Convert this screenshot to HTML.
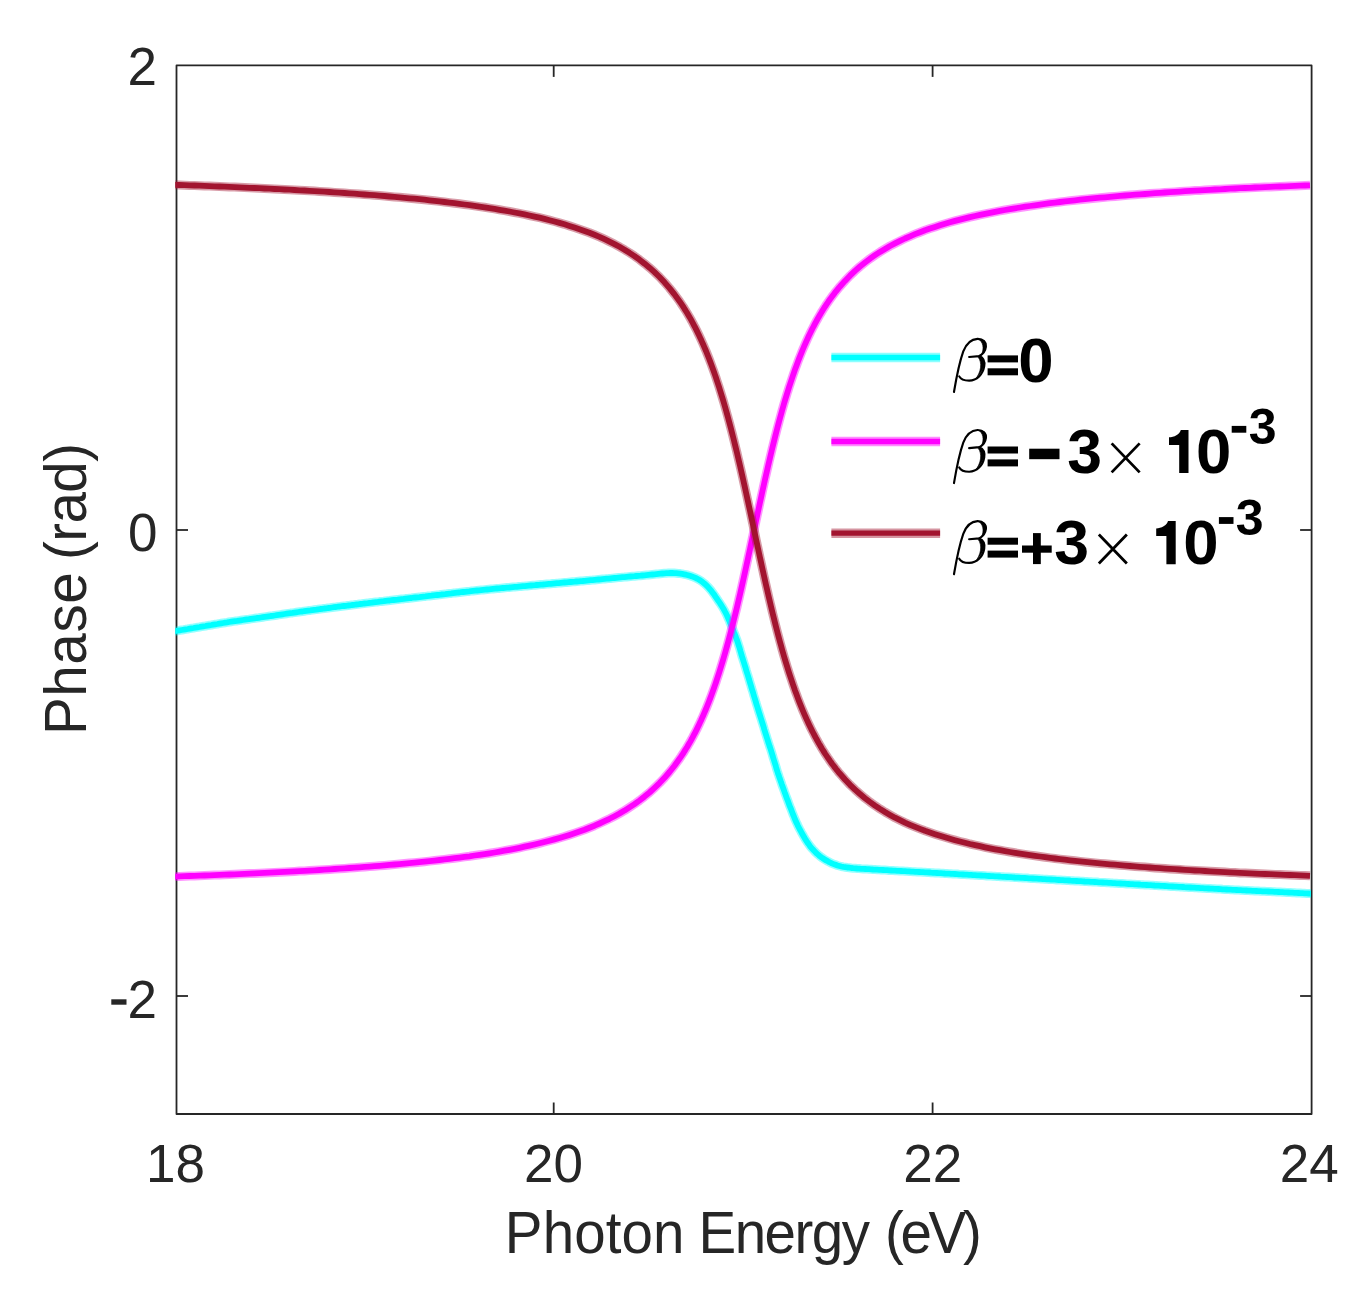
<!DOCTYPE html>
<html lang="en"><head><meta charset="utf-8"><title>Phase vs Photon Energy</title>
<style>
html,body{margin:0;padding:0;background:#ffffff;}
body{width:1363px;height:1310px;overflow:hidden;position:relative;font-family:"Liberation Sans",sans-serif;}
svg{position:absolute;left:0;top:0;display:block;}
svg text{font-kerning:none;white-space:pre;}
</style></head><body>
<svg width="1363" height="1310" viewBox="0 0 1363 1310">
<rect x="0" y="0" width="1363" height="1310" fill="#ffffff"/>
<defs><clipPath id="clip"><rect x="175.3" y="65.4" width="1135.60" height="1048.60"/></clipPath></defs>
<!-- axes box and ticks -->
<rect x="176.5" y="65.4" width="1135.10" height="1048.60" fill="none" stroke="#262626" stroke-width="1.8" stroke-linejoin="round"/>
<g stroke="#262626" stroke-width="1.8">
<line x1="553.7" y1="1114.0" x2="553.7" y2="1102.5"/>
<line x1="932.6" y1="1114.0" x2="932.6" y2="1102.5"/>
<line x1="553.7" y1="65.4" x2="553.7" y2="76.9"/>
<line x1="932.6" y1="65.4" x2="932.6" y2="76.9"/>
<line x1="176.5" y1="530.0" x2="188.0" y2="530.0"/>
<line x1="176.5" y1="996.0" x2="188.0" y2="996.0"/>
<line x1="1311.6" y1="530.0" x2="1300.1" y2="530.0"/>
<line x1="1311.6" y1="996.0" x2="1300.1" y2="996.0"/>
</g>
<!-- data curves -->
<g clip-path="url(#clip)" fill="none" stroke-linejoin="round" stroke-linecap="butt">
<path d="M168.0,632.4 L170.0,632.1 L171.9,631.7 L173.9,631.4 L175.9,631.0 L177.8,630.7 L179.8,630.3 L181.8,630.0 L183.8,629.7 L185.7,629.3 L187.7,629.0 L189.7,628.6 L191.6,628.3 L193.6,628.0 L195.6,627.6 L197.6,627.3 L199.5,627.0 L201.5,626.6 L203.5,626.3 L205.5,626.0 L207.4,625.6 L209.4,625.3 L211.4,625.0 L213.3,624.6 L215.3,624.3 L217.3,624.0 L219.3,623.6 L221.2,623.3 L223.2,623.0 L225.2,622.7 L227.2,622.4 L229.1,622.0 L231.1,621.7 L233.1,621.4 L235.1,621.1 L237.0,620.9 L239.0,620.6 L241.0,620.3 L243.0,620.0 L245.0,619.7 L246.9,619.4 L248.9,619.2 L250.9,618.9 L252.9,618.6 L254.9,618.3 L256.8,618.0 L258.8,617.8 L260.8,617.5 L262.8,617.2 L264.8,616.9 L266.7,616.6 L268.7,616.3 L270.7,616.0 L272.7,615.8 L274.7,615.5 L276.6,615.2 L278.6,614.9 L280.6,614.6 L282.6,614.3 L284.5,614.0 L286.5,613.7 L288.5,613.4 L290.5,613.1 L292.5,612.9 L294.4,612.6 L296.4,612.3 L298.4,612.0 L300.4,611.7 L302.4,611.5 L304.3,611.2 L306.3,610.9 L308.3,610.6 L310.3,610.4 L312.3,610.1 L314.3,609.8 L316.2,609.6 L318.2,609.3 L320.2,609.0 L322.2,608.8 L324.2,608.5 L326.2,608.3 L328.1,608.0 L330.1,607.8 L332.1,607.5 L334.1,607.2 L336.1,607.0 L338.1,606.7 L340.0,606.5 L342.0,606.2 L344.0,606.0 L346.0,605.8 L348.0,605.5 L350.0,605.3 L351.9,605.0 L353.9,604.8 L355.9,604.5 L357.9,604.3 L359.9,604.0 L361.9,603.8 L363.9,603.5 L365.8,603.3 L367.8,603.1 L369.8,602.8 L371.8,602.6 L373.8,602.3 L375.8,602.1 L377.8,601.9 L379.7,601.6 L381.7,601.4 L383.7,601.2 L385.7,600.9 L387.7,600.7 L389.7,600.5 L391.7,600.2 L393.7,600.0 L395.6,599.8 L397.6,599.6 L399.6,599.3 L401.6,599.1 L403.6,598.9 L405.6,598.6 L407.6,598.4 L409.5,598.2 L411.5,598.0 L413.5,597.7 L415.5,597.5 L417.5,597.3 L419.5,597.1 L421.5,596.8 L423.5,596.6 L425.4,596.4 L427.4,596.1 L429.4,595.9 L431.4,595.7 L433.4,595.4 L435.4,595.2 L437.4,595.0 L439.3,594.8 L441.3,594.5 L443.3,594.3 L445.3,594.1 L447.3,593.8 L449.3,593.6 L451.3,593.4 L453.3,593.1 L455.2,592.9 L457.2,592.7 L459.2,592.5 L461.2,592.2 L463.2,592.0 L465.2,591.8 L467.2,591.6 L469.2,591.4 L471.1,591.1 L473.1,590.9 L475.1,590.7 L477.1,590.5 L479.1,590.3 L481.1,590.1 L483.1,589.9 L485.1,589.7 L487.1,589.5 L489.0,589.3 L491.0,589.1 L493.0,588.9 L495.0,588.7 L497.0,588.5 L499.0,588.4 L501.0,588.2 L503.0,588.0 L505.0,587.8 L507.0,587.6 L509.0,587.5 L511.0,587.3 L512.9,587.1 L514.9,586.9 L516.9,586.8 L518.9,586.6 L520.9,586.4 L522.9,586.2 L524.9,586.1 L526.9,585.9 L528.9,585.7 L530.9,585.5 L532.9,585.3 L534.9,585.2 L536.9,585.0 L538.8,584.8 L540.8,584.6 L542.8,584.5 L544.8,584.3 L546.8,584.1 L548.8,583.9 L550.8,583.8 L552.8,583.6 L554.8,583.4 L556.8,583.2 L558.8,583.1 L560.8,582.9 L562.8,582.7 L564.7,582.5 L566.7,582.4 L568.7,582.2 L570.7,582.0 L572.7,581.8 L574.7,581.7 L576.7,581.5 L578.7,581.3 L580.7,581.1 L582.7,581.0 L584.7,580.8 L586.7,580.6 L588.7,580.4 L590.6,580.2 L592.6,580.1 L594.6,579.9 L596.6,579.7 L598.6,579.5 L600.6,579.3 L602.6,579.1 L604.6,578.9 L606.6,578.7 L608.6,578.6 L610.6,578.4 L612.5,578.2 L614.5,578.0 L616.5,577.8 L618.5,577.6 L620.5,577.4 L622.5,577.2 L624.5,577.1 L626.5,576.9 L628.5,576.7 L630.5,576.5 L632.5,576.3 L634.5,576.2 L636.4,576.0 L638.4,575.8 L640.4,575.7 L642.4,575.5 L644.4,575.3 L646.4,575.1 L648.4,574.9 L650.4,574.7 L652.4,574.5 L654.4,574.3 L656.4,574.1 L658.3,573.9 L660.3,573.7 L662.3,573.5 L664.3,573.3 L666.3,573.2 L668.3,573.1 L670.3,573.0 L672.3,573.0 L674.3,573.1 L676.3,573.2 L678.3,573.4 L680.3,573.6 L682.2,573.9 L684.2,574.3 L686.1,574.7 L688.1,575.2 L690.0,575.8 L691.9,576.4 L693.7,577.1 L695.6,577.9 L697.4,578.8 L699.1,579.7 L700.8,580.8 L702.4,581.9 L704.0,583.2 L705.5,584.5 L706.9,585.9 L708.3,587.3 L709.6,588.8 L710.9,590.3 L712.1,591.9 L713.3,593.5 L714.5,595.1 L715.6,596.8 L716.7,598.4 L717.8,600.1 L718.9,601.7 L720.1,603.4 L721.2,605.1 L722.2,606.7 L723.3,608.5 L724.3,610.2 L725.2,612.0 L726.1,613.7 L727.0,615.5 L727.8,617.4 L728.6,619.2 L729.4,621.0 L730.1,622.9 L730.9,624.7 L731.7,626.6 L732.4,628.4 L733.2,630.3 L733.9,632.1 L734.7,634.0 L735.4,635.8 L736.1,637.7 L736.8,639.6 L737.5,641.5 L738.1,643.4 L738.7,645.3 L739.3,647.2 L739.9,649.1 L740.4,651.0 L741.0,653.0 L741.5,654.9 L742.1,656.8 L742.7,658.7 L743.3,660.6 L743.9,662.5 L744.5,664.4 L745.1,666.3 L745.7,668.2 L746.2,670.2 L746.8,672.1 L747.4,674.0 L748.0,675.9 L748.6,677.8 L749.1,679.7 L749.7,681.6 L750.3,683.6 L750.9,685.5 L751.4,687.4 L752.0,689.3 L752.6,691.2 L753.2,693.1 L753.7,695.1 L754.3,697.0 L754.9,698.9 L755.5,700.8 L756.0,702.7 L756.6,704.6 L757.2,706.5 L757.8,708.4 L758.4,710.4 L759.0,712.3 L759.6,714.2 L760.2,716.1 L760.8,718.0 L761.4,719.9 L762.0,721.8 L762.6,723.7 L763.2,725.6 L763.8,727.5 L764.3,729.5 L764.9,731.4 L765.5,733.3 L766.1,735.2 L766.7,737.1 L767.3,739.0 L767.9,740.9 L768.5,742.8 L769.1,744.7 L769.7,746.6 L770.4,748.5 L771.0,750.4 L771.6,752.3 L772.2,754.3 L772.7,756.2 L773.3,758.1 L773.9,760.0 L774.5,761.9 L775.1,763.8 L775.7,765.7 L776.2,767.6 L776.8,769.6 L777.4,771.5 L778.0,773.4 L778.7,775.3 L779.3,777.2 L780.0,779.1 L780.6,780.9 L781.3,782.8 L781.9,784.7 L782.6,786.6 L783.3,788.5 L784.0,790.4 L784.6,792.2 L785.3,794.1 L786.0,796.0 L786.7,797.9 L787.4,799.7 L788.1,801.6 L788.8,803.5 L789.5,805.4 L790.2,807.2 L791.0,809.1 L791.7,811.0 L792.4,812.8 L793.1,814.7 L793.9,816.5 L794.6,818.4 L795.4,820.2 L796.2,822.1 L797.1,823.9 L797.9,825.7 L798.8,827.5 L799.7,829.3 L800.7,831.0 L801.6,832.8 L802.6,834.5 L803.6,836.3 L804.6,838.0 L805.6,839.7 L806.7,841.4 L807.8,843.0 L809.0,844.7 L810.1,846.3 L811.4,847.8 L812.7,849.3 L814.1,850.8 L815.5,852.2 L816.9,853.6 L818.4,854.9 L819.9,856.2 L821.5,857.4 L823.2,858.5 L824.8,859.6 L826.6,860.6 L828.3,861.6 L830.1,862.5 L831.9,863.4 L833.7,864.1 L835.6,864.8 L837.5,865.5 L839.4,866.0 L841.3,866.5 L843.3,866.9 L845.3,867.2 L847.2,867.5 L849.2,867.7 L851.2,868.0 L853.2,868.2 L855.2,868.3 L857.2,868.5 L859.2,868.6 L861.2,868.8 L863.2,868.9 L865.2,869.0 L867.2,869.1 L869.1,869.2 L871.1,869.3 L873.1,869.5 L875.1,869.6 L877.1,869.7 L879.1,869.8 L881.1,869.9 L883.1,870.0 L885.1,870.1 L887.1,870.2 L889.1,870.4 L891.1,870.5 L893.1,870.6 L895.1,870.7 L897.1,870.8 L899.1,870.9 L901.1,871.0 L903.1,871.1 L905.1,871.2 L907.1,871.3 L909.1,871.4 L911.1,871.6 L913.1,871.7 L915.1,871.8 L917.1,871.9 L919.1,872.0 L921.1,872.1 L923.1,872.2 L925.1,872.3 L927.1,872.4 L929.1,872.5 L931.1,872.7 L933.0,872.8 L935.0,872.9 L937.0,873.0 L939.0,873.1 L941.0,873.2 L943.0,873.3 L945.0,873.5 L947.0,873.6 L949.0,873.7 L951.0,873.8 L953.0,873.9 L955.0,874.0 L957.0,874.1 L959.0,874.3 L961.0,874.4 L963.0,874.5 L965.0,874.6 L967.0,874.7 L969.0,874.8 L971.0,874.9 L973.0,875.1 L975.0,875.2 L977.0,875.3 L979.0,875.4 L981.0,875.5 L983.0,875.6 L985.0,875.7 L987.0,875.9 L989.0,876.0 L991.0,876.1 L993.0,876.2 L994.9,876.3 L996.9,876.4 L998.9,876.5 L1000.9,876.7 L1002.9,876.8 L1004.9,876.9 L1006.9,877.0 L1008.9,877.1 L1010.9,877.2 L1012.9,877.3 L1014.9,877.5 L1016.9,877.6 L1018.9,877.7 L1020.9,877.8 L1022.9,877.9 L1024.9,878.0 L1026.9,878.1 L1028.9,878.3 L1030.9,878.4 L1032.9,878.5 L1034.9,878.6 L1036.9,878.7 L1038.9,878.8 L1040.9,878.9 L1042.9,879.1 L1044.9,879.2 L1046.9,879.3 L1048.9,879.4 L1050.9,879.5 L1052.9,879.6 L1054.9,879.7 L1056.8,879.9 L1058.8,880.0 L1060.8,880.1 L1062.8,880.2 L1064.8,880.3 L1066.8,880.4 L1068.8,880.5 L1070.8,880.7 L1072.8,880.8 L1074.8,880.9 L1076.8,881.0 L1078.8,881.1 L1080.8,881.2 L1082.8,881.3 L1084.8,881.5 L1086.8,881.6 L1088.8,881.7 L1090.8,881.8 L1092.8,881.9 L1094.8,882.0 L1096.8,882.1 L1098.8,882.3 L1100.8,882.4 L1102.8,882.5 L1104.8,882.6 L1106.8,882.7 L1108.8,882.8 L1110.8,882.9 L1112.8,883.1 L1114.8,883.2 L1116.7,883.3 L1118.7,883.4 L1120.7,883.5 L1122.7,883.6 L1124.7,883.7 L1126.7,883.9 L1128.7,884.0 L1130.7,884.1 L1132.7,884.2 L1134.7,884.3 L1136.7,884.4 L1138.7,884.5 L1140.7,884.7 L1142.7,884.8 L1144.7,884.9 L1146.7,885.0 L1148.7,885.1 L1150.7,885.2 L1152.7,885.3 L1154.7,885.5 L1156.7,885.6 L1158.7,885.7 L1160.7,885.8 L1162.7,885.9 L1164.7,886.0 L1166.7,886.1 L1168.7,886.3 L1170.7,886.4 L1172.7,886.5 L1174.7,886.6 L1176.7,886.7 L1178.6,886.8 L1180.6,886.9 L1182.6,887.0 L1184.6,887.2 L1186.6,887.3 L1188.6,887.4 L1190.6,887.5 L1192.6,887.6 L1194.6,887.7 L1196.6,887.8 L1198.6,887.9 L1200.6,888.1 L1202.6,888.2 L1204.6,888.3 L1206.6,888.4 L1208.6,888.5 L1210.6,888.6 L1212.6,888.7 L1214.6,888.8 L1216.6,888.9 L1218.6,889.0 L1220.6,889.1 L1222.6,889.3 L1224.6,889.4 L1226.6,889.5 L1228.6,889.6 L1230.6,889.7 L1232.6,889.8 L1234.6,889.9 L1236.6,890.0 L1238.6,890.1 L1240.6,890.2 L1242.6,890.3 L1244.6,890.4 L1246.5,890.5 L1248.5,890.6 L1250.5,890.7 L1252.5,890.8 L1254.5,890.9 L1256.5,891.0 L1258.5,891.1 L1260.5,891.2 L1262.5,891.3 L1264.5,891.3 L1266.5,891.4 L1268.5,891.5 L1270.5,891.6 L1272.5,891.7 L1274.5,891.8 L1276.5,891.9 L1278.5,892.0 L1280.5,892.1 L1282.5,892.2 L1284.5,892.3 L1286.5,892.4 L1288.5,892.5 L1290.5,892.6 L1292.5,892.7 L1294.5,892.8 L1296.5,892.9 L1298.5,893.0 L1300.5,893.1 L1302.5,893.2 L1304.5,893.3 L1306.5,893.4 L1308.5,893.5 L1310.5,893.6 L1312.5,893.7 L1314.5,893.8 L1316.5,893.9" stroke="#00ffff" stroke-width="9.0" stroke-opacity="0.42"/>
<path d="M168.0,632.4 L170.0,632.1 L171.9,631.7 L173.9,631.4 L175.9,631.0 L177.8,630.7 L179.8,630.3 L181.8,630.0 L183.8,629.7 L185.7,629.3 L187.7,629.0 L189.7,628.6 L191.6,628.3 L193.6,628.0 L195.6,627.6 L197.6,627.3 L199.5,627.0 L201.5,626.6 L203.5,626.3 L205.5,626.0 L207.4,625.6 L209.4,625.3 L211.4,625.0 L213.3,624.6 L215.3,624.3 L217.3,624.0 L219.3,623.6 L221.2,623.3 L223.2,623.0 L225.2,622.7 L227.2,622.4 L229.1,622.0 L231.1,621.7 L233.1,621.4 L235.1,621.1 L237.0,620.9 L239.0,620.6 L241.0,620.3 L243.0,620.0 L245.0,619.7 L246.9,619.4 L248.9,619.2 L250.9,618.9 L252.9,618.6 L254.9,618.3 L256.8,618.0 L258.8,617.8 L260.8,617.5 L262.8,617.2 L264.8,616.9 L266.7,616.6 L268.7,616.3 L270.7,616.0 L272.7,615.8 L274.7,615.5 L276.6,615.2 L278.6,614.9 L280.6,614.6 L282.6,614.3 L284.5,614.0 L286.5,613.7 L288.5,613.4 L290.5,613.1 L292.5,612.9 L294.4,612.6 L296.4,612.3 L298.4,612.0 L300.4,611.7 L302.4,611.5 L304.3,611.2 L306.3,610.9 L308.3,610.6 L310.3,610.4 L312.3,610.1 L314.3,609.8 L316.2,609.6 L318.2,609.3 L320.2,609.0 L322.2,608.8 L324.2,608.5 L326.2,608.3 L328.1,608.0 L330.1,607.8 L332.1,607.5 L334.1,607.2 L336.1,607.0 L338.1,606.7 L340.0,606.5 L342.0,606.2 L344.0,606.0 L346.0,605.8 L348.0,605.5 L350.0,605.3 L351.9,605.0 L353.9,604.8 L355.9,604.5 L357.9,604.3 L359.9,604.0 L361.9,603.8 L363.9,603.5 L365.8,603.3 L367.8,603.1 L369.8,602.8 L371.8,602.6 L373.8,602.3 L375.8,602.1 L377.8,601.9 L379.7,601.6 L381.7,601.4 L383.7,601.2 L385.7,600.9 L387.7,600.7 L389.7,600.5 L391.7,600.2 L393.7,600.0 L395.6,599.8 L397.6,599.6 L399.6,599.3 L401.6,599.1 L403.6,598.9 L405.6,598.6 L407.6,598.4 L409.5,598.2 L411.5,598.0 L413.5,597.7 L415.5,597.5 L417.5,597.3 L419.5,597.1 L421.5,596.8 L423.5,596.6 L425.4,596.4 L427.4,596.1 L429.4,595.9 L431.4,595.7 L433.4,595.4 L435.4,595.2 L437.4,595.0 L439.3,594.8 L441.3,594.5 L443.3,594.3 L445.3,594.1 L447.3,593.8 L449.3,593.6 L451.3,593.4 L453.3,593.1 L455.2,592.9 L457.2,592.7 L459.2,592.5 L461.2,592.2 L463.2,592.0 L465.2,591.8 L467.2,591.6 L469.2,591.4 L471.1,591.1 L473.1,590.9 L475.1,590.7 L477.1,590.5 L479.1,590.3 L481.1,590.1 L483.1,589.9 L485.1,589.7 L487.1,589.5 L489.0,589.3 L491.0,589.1 L493.0,588.9 L495.0,588.7 L497.0,588.5 L499.0,588.4 L501.0,588.2 L503.0,588.0 L505.0,587.8 L507.0,587.6 L509.0,587.5 L511.0,587.3 L512.9,587.1 L514.9,586.9 L516.9,586.8 L518.9,586.6 L520.9,586.4 L522.9,586.2 L524.9,586.1 L526.9,585.9 L528.9,585.7 L530.9,585.5 L532.9,585.3 L534.9,585.2 L536.9,585.0 L538.8,584.8 L540.8,584.6 L542.8,584.5 L544.8,584.3 L546.8,584.1 L548.8,583.9 L550.8,583.8 L552.8,583.6 L554.8,583.4 L556.8,583.2 L558.8,583.1 L560.8,582.9 L562.8,582.7 L564.7,582.5 L566.7,582.4 L568.7,582.2 L570.7,582.0 L572.7,581.8 L574.7,581.7 L576.7,581.5 L578.7,581.3 L580.7,581.1 L582.7,581.0 L584.7,580.8 L586.7,580.6 L588.7,580.4 L590.6,580.2 L592.6,580.1 L594.6,579.9 L596.6,579.7 L598.6,579.5 L600.6,579.3 L602.6,579.1 L604.6,578.9 L606.6,578.7 L608.6,578.6 L610.6,578.4 L612.5,578.2 L614.5,578.0 L616.5,577.8 L618.5,577.6 L620.5,577.4 L622.5,577.2 L624.5,577.1 L626.5,576.9 L628.5,576.7 L630.5,576.5 L632.5,576.3 L634.5,576.2 L636.4,576.0 L638.4,575.8 L640.4,575.7 L642.4,575.5 L644.4,575.3 L646.4,575.1 L648.4,574.9 L650.4,574.7 L652.4,574.5 L654.4,574.3 L656.4,574.1 L658.3,573.9 L660.3,573.7 L662.3,573.5 L664.3,573.3 L666.3,573.2 L668.3,573.1 L670.3,573.0 L672.3,573.0 L674.3,573.1 L676.3,573.2 L678.3,573.4 L680.3,573.6 L682.2,573.9 L684.2,574.3 L686.1,574.7 L688.1,575.2 L690.0,575.8 L691.9,576.4 L693.7,577.1 L695.6,577.9 L697.4,578.8 L699.1,579.7 L700.8,580.8 L702.4,581.9 L704.0,583.2 L705.5,584.5 L706.9,585.9 L708.3,587.3 L709.6,588.8 L710.9,590.3 L712.1,591.9 L713.3,593.5 L714.5,595.1 L715.6,596.8 L716.7,598.4 L717.8,600.1 L718.9,601.7 L720.1,603.4 L721.2,605.1 L722.2,606.7 L723.3,608.5 L724.3,610.2 L725.2,612.0 L726.1,613.7 L727.0,615.5 L727.8,617.4 L728.6,619.2 L729.4,621.0 L730.1,622.9 L730.9,624.7 L731.7,626.6 L732.4,628.4 L733.2,630.3 L733.9,632.1 L734.7,634.0 L735.4,635.8 L736.1,637.7 L736.8,639.6 L737.5,641.5 L738.1,643.4 L738.7,645.3 L739.3,647.2 L739.9,649.1 L740.4,651.0 L741.0,653.0 L741.5,654.9 L742.1,656.8 L742.7,658.7 L743.3,660.6 L743.9,662.5 L744.5,664.4 L745.1,666.3 L745.7,668.2 L746.2,670.2 L746.8,672.1 L747.4,674.0 L748.0,675.9 L748.6,677.8 L749.1,679.7 L749.7,681.6 L750.3,683.6 L750.9,685.5 L751.4,687.4 L752.0,689.3 L752.6,691.2 L753.2,693.1 L753.7,695.1 L754.3,697.0 L754.9,698.9 L755.5,700.8 L756.0,702.7 L756.6,704.6 L757.2,706.5 L757.8,708.4 L758.4,710.4 L759.0,712.3 L759.6,714.2 L760.2,716.1 L760.8,718.0 L761.4,719.9 L762.0,721.8 L762.6,723.7 L763.2,725.6 L763.8,727.5 L764.3,729.5 L764.9,731.4 L765.5,733.3 L766.1,735.2 L766.7,737.1 L767.3,739.0 L767.9,740.9 L768.5,742.8 L769.1,744.7 L769.7,746.6 L770.4,748.5 L771.0,750.4 L771.6,752.3 L772.2,754.3 L772.7,756.2 L773.3,758.1 L773.9,760.0 L774.5,761.9 L775.1,763.8 L775.7,765.7 L776.2,767.6 L776.8,769.6 L777.4,771.5 L778.0,773.4 L778.7,775.3 L779.3,777.2 L780.0,779.1 L780.6,780.9 L781.3,782.8 L781.9,784.7 L782.6,786.6 L783.3,788.5 L784.0,790.4 L784.6,792.2 L785.3,794.1 L786.0,796.0 L786.7,797.9 L787.4,799.7 L788.1,801.6 L788.8,803.5 L789.5,805.4 L790.2,807.2 L791.0,809.1 L791.7,811.0 L792.4,812.8 L793.1,814.7 L793.9,816.5 L794.6,818.4 L795.4,820.2 L796.2,822.1 L797.1,823.9 L797.9,825.7 L798.8,827.5 L799.7,829.3 L800.7,831.0 L801.6,832.8 L802.6,834.5 L803.6,836.3 L804.6,838.0 L805.6,839.7 L806.7,841.4 L807.8,843.0 L809.0,844.7 L810.1,846.3 L811.4,847.8 L812.7,849.3 L814.1,850.8 L815.5,852.2 L816.9,853.6 L818.4,854.9 L819.9,856.2 L821.5,857.4 L823.2,858.5 L824.8,859.6 L826.6,860.6 L828.3,861.6 L830.1,862.5 L831.9,863.4 L833.7,864.1 L835.6,864.8 L837.5,865.5 L839.4,866.0 L841.3,866.5 L843.3,866.9 L845.3,867.2 L847.2,867.5 L849.2,867.7 L851.2,868.0 L853.2,868.2 L855.2,868.3 L857.2,868.5 L859.2,868.6 L861.2,868.8 L863.2,868.9 L865.2,869.0 L867.2,869.1 L869.1,869.2 L871.1,869.3 L873.1,869.5 L875.1,869.6 L877.1,869.7 L879.1,869.8 L881.1,869.9 L883.1,870.0 L885.1,870.1 L887.1,870.2 L889.1,870.4 L891.1,870.5 L893.1,870.6 L895.1,870.7 L897.1,870.8 L899.1,870.9 L901.1,871.0 L903.1,871.1 L905.1,871.2 L907.1,871.3 L909.1,871.4 L911.1,871.6 L913.1,871.7 L915.1,871.8 L917.1,871.9 L919.1,872.0 L921.1,872.1 L923.1,872.2 L925.1,872.3 L927.1,872.4 L929.1,872.5 L931.1,872.7 L933.0,872.8 L935.0,872.9 L937.0,873.0 L939.0,873.1 L941.0,873.2 L943.0,873.3 L945.0,873.5 L947.0,873.6 L949.0,873.7 L951.0,873.8 L953.0,873.9 L955.0,874.0 L957.0,874.1 L959.0,874.3 L961.0,874.4 L963.0,874.5 L965.0,874.6 L967.0,874.7 L969.0,874.8 L971.0,874.9 L973.0,875.1 L975.0,875.2 L977.0,875.3 L979.0,875.4 L981.0,875.5 L983.0,875.6 L985.0,875.7 L987.0,875.9 L989.0,876.0 L991.0,876.1 L993.0,876.2 L994.9,876.3 L996.9,876.4 L998.9,876.5 L1000.9,876.7 L1002.9,876.8 L1004.9,876.9 L1006.9,877.0 L1008.9,877.1 L1010.9,877.2 L1012.9,877.3 L1014.9,877.5 L1016.9,877.6 L1018.9,877.7 L1020.9,877.8 L1022.9,877.9 L1024.9,878.0 L1026.9,878.1 L1028.9,878.3 L1030.9,878.4 L1032.9,878.5 L1034.9,878.6 L1036.9,878.7 L1038.9,878.8 L1040.9,878.9 L1042.9,879.1 L1044.9,879.2 L1046.9,879.3 L1048.9,879.4 L1050.9,879.5 L1052.9,879.6 L1054.9,879.7 L1056.8,879.9 L1058.8,880.0 L1060.8,880.1 L1062.8,880.2 L1064.8,880.3 L1066.8,880.4 L1068.8,880.5 L1070.8,880.7 L1072.8,880.8 L1074.8,880.9 L1076.8,881.0 L1078.8,881.1 L1080.8,881.2 L1082.8,881.3 L1084.8,881.5 L1086.8,881.6 L1088.8,881.7 L1090.8,881.8 L1092.8,881.9 L1094.8,882.0 L1096.8,882.1 L1098.8,882.3 L1100.8,882.4 L1102.8,882.5 L1104.8,882.6 L1106.8,882.7 L1108.8,882.8 L1110.8,882.9 L1112.8,883.1 L1114.8,883.2 L1116.7,883.3 L1118.7,883.4 L1120.7,883.5 L1122.7,883.6 L1124.7,883.7 L1126.7,883.9 L1128.7,884.0 L1130.7,884.1 L1132.7,884.2 L1134.7,884.3 L1136.7,884.4 L1138.7,884.5 L1140.7,884.7 L1142.7,884.8 L1144.7,884.9 L1146.7,885.0 L1148.7,885.1 L1150.7,885.2 L1152.7,885.3 L1154.7,885.5 L1156.7,885.6 L1158.7,885.7 L1160.7,885.8 L1162.7,885.9 L1164.7,886.0 L1166.7,886.1 L1168.7,886.3 L1170.7,886.4 L1172.7,886.5 L1174.7,886.6 L1176.7,886.7 L1178.6,886.8 L1180.6,886.9 L1182.6,887.0 L1184.6,887.2 L1186.6,887.3 L1188.6,887.4 L1190.6,887.5 L1192.6,887.6 L1194.6,887.7 L1196.6,887.8 L1198.6,887.9 L1200.6,888.1 L1202.6,888.2 L1204.6,888.3 L1206.6,888.4 L1208.6,888.5 L1210.6,888.6 L1212.6,888.7 L1214.6,888.8 L1216.6,888.9 L1218.6,889.0 L1220.6,889.1 L1222.6,889.3 L1224.6,889.4 L1226.6,889.5 L1228.6,889.6 L1230.6,889.7 L1232.6,889.8 L1234.6,889.9 L1236.6,890.0 L1238.6,890.1 L1240.6,890.2 L1242.6,890.3 L1244.6,890.4 L1246.5,890.5 L1248.5,890.6 L1250.5,890.7 L1252.5,890.8 L1254.5,890.9 L1256.5,891.0 L1258.5,891.1 L1260.5,891.2 L1262.5,891.3 L1264.5,891.3 L1266.5,891.4 L1268.5,891.5 L1270.5,891.6 L1272.5,891.7 L1274.5,891.8 L1276.5,891.9 L1278.5,892.0 L1280.5,892.1 L1282.5,892.2 L1284.5,892.3 L1286.5,892.4 L1288.5,892.5 L1290.5,892.6 L1292.5,892.7 L1294.5,892.8 L1296.5,892.9 L1298.5,893.0 L1300.5,893.1 L1302.5,893.2 L1304.5,893.3 L1306.5,893.4 L1308.5,893.5 L1310.5,893.6 L1312.5,893.7 L1314.5,893.8 L1316.5,893.9" stroke="#00ffff" stroke-width="5.8"/>
<path d="M174.5,876.6 L179.5,876.4 L184.5,876.2 L189.5,876.0 L194.5,875.9 L199.5,875.7 L204.5,875.5 L209.5,875.3 L214.5,875.1 L219.5,874.9 L224.5,874.7 L229.5,874.5 L234.5,874.3 L239.5,874.1 L244.5,873.8 L249.5,873.6 L254.5,873.4 L259.5,873.2 L264.5,872.9 L269.5,872.7 L274.5,872.4 L279.5,872.2 L284.5,871.9 L289.5,871.7 L294.5,871.4 L299.5,871.1 L304.5,870.9 L309.5,870.6 L314.5,870.3 L319.5,870.0 L324.5,869.7 L329.5,869.4 L334.5,869.0 L339.5,868.7 L344.5,868.4 L349.5,868.0 L354.5,867.7 L359.5,867.3 L364.5,866.9 L369.5,866.6 L374.5,866.2 L379.5,865.8 L384.5,865.4 L389.5,864.9 L394.5,864.5 L399.5,864.1 L404.5,863.6 L409.5,863.1 L414.5,862.7 L419.5,862.2 L424.5,861.7 L429.5,861.1 L434.5,860.6 L439.5,860.0 L444.5,859.4 L449.5,858.8 L454.5,858.2 L459.5,857.6 L464.5,856.9 L469.5,856.3 L474.5,855.5 L479.5,854.8 L484.5,854.1 L489.5,853.3 L494.5,852.5 L499.5,851.6 L504.5,850.7 L509.5,849.8 L514.5,848.8 L519.5,847.8 L524.5,846.7 L529.5,845.6 L534.5,844.5 L539.5,843.3 L544.5,842.0 L549.5,840.7 L554.5,839.4 L559.5,838.0 L564.5,836.5 L569.5,834.9 L574.5,833.2 L579.5,831.5 L584.5,829.7 L589.5,827.7 L594.5,825.7 L599.5,823.5 L604.5,821.2 L609.5,818.8 L614.5,816.2 L619.5,813.5 L624.5,810.6 L629.5,807.4 L634.5,804.1 L639.5,800.5 L644.5,796.6 L649.5,792.5 L654.5,787.9 L659.5,783.1 L664.5,777.8 L669.5,772.0 L674.5,765.7 L679.5,758.8 L680.0,758.0 L681.0,756.6 L682.0,755.1 L683.0,753.6 L684.0,752.0 L685.0,750.4 L686.0,748.8 L687.0,747.2 L688.0,745.5 L689.0,743.8 L690.0,742.1 L691.0,740.3 L692.0,738.5 L693.0,736.6 L694.0,734.7 L695.0,732.8 L696.0,730.9 L697.0,728.9 L698.0,726.8 L699.0,724.7 L700.0,722.6 L701.0,720.5 L702.0,718.2 L703.0,716.0 L704.0,713.7 L705.0,711.3 L706.0,709.0 L707.0,706.5 L708.0,704.0 L709.0,701.5 L710.0,698.9 L711.0,696.2 L712.0,693.5 L713.0,690.8 L714.0,688.0 L715.0,685.1 L716.0,682.2 L717.0,679.2 L718.0,676.2 L719.0,673.1 L720.0,669.9 L721.0,666.7 L722.0,663.4 L723.0,660.1 L724.0,656.7 L725.0,653.2 L726.0,649.7 L727.0,646.1 L728.0,642.5 L729.0,638.8 L730.0,635.0 L731.0,631.2 L732.0,627.3 L733.0,623.4 L734.0,619.4 L735.0,615.3 L736.0,611.2 L737.0,607.1 L738.0,602.8 L739.0,598.6 L740.0,594.3 L741.0,589.9 L742.0,585.5 L743.0,581.1 L744.0,576.6 L745.0,572.1 L746.0,567.5 L747.0,562.9 L748.0,558.3 L749.0,553.7 L750.0,549.1 L751.0,544.4 L752.0,539.7 L753.0,535.0 L754.0,530.4 L755.0,525.7 L756.0,521.0 L757.0,516.3 L758.0,511.7 L759.0,507.0 L760.0,502.4 L761.0,497.8 L762.0,493.2 L763.0,488.6 L764.0,484.1 L765.0,479.6 L766.0,475.2 L767.0,470.8 L768.0,466.4 L769.0,462.1 L770.0,457.8 L771.0,453.6 L772.0,449.4 L773.0,445.3 L774.0,441.2 L775.0,437.2 L776.0,433.3 L777.0,429.4 L778.0,425.6 L779.0,421.8 L780.0,418.1 L781.0,414.4 L782.0,410.8 L783.0,407.3 L784.0,403.8 L785.0,400.4 L786.0,397.1 L787.0,393.8 L788.0,390.6 L789.0,387.4 L790.0,384.3 L791.0,381.3 L792.0,378.3 L793.0,375.3 L794.0,372.5 L795.0,369.6 L796.0,366.9 L797.0,364.2 L798.0,361.5 L799.0,358.9 L800.0,356.4 L801.0,353.9 L802.0,351.4 L803.0,349.0 L804.0,346.7 L805.0,344.4 L806.0,342.1 L807.0,339.9 L808.0,337.7 L809.0,335.6 L810.0,333.5 L811.0,331.4 L812.0,329.4 L813.0,327.5 L814.0,325.6 L815.0,323.7 L816.0,321.8 L817.0,320.0 L818.0,318.2 L819.0,316.5 L820.0,314.8 L821.0,313.1 L822.0,311.4 L823.0,309.8 L824.0,308.2 L825.0,306.7 L826.0,305.1 L827.0,303.6 L828.0,302.2 L829.0,300.7 L830.0,299.3 L831.0,297.9 L832.0,296.6 L833.0,295.2 L834.0,293.9 L835.0,292.6 L836.0,291.3 L837.0,290.1 L838.0,288.9 L839.0,287.7 L840.0,286.5 L845.0,280.9 L850.0,275.7 L855.0,270.9 L860.0,266.5 L865.0,262.5 L870.0,258.7 L875.0,255.2 L880.0,251.9 L885.0,248.9 L890.0,246.0 L895.0,243.4 L900.0,240.9 L905.0,238.5 L910.0,236.3 L915.0,234.2 L920.0,232.2 L925.0,230.3 L930.0,228.6 L935.0,226.9 L940.0,225.3 L945.0,223.8 L950.0,222.3 L955.0,220.9 L960.0,219.6 L965.0,218.4 L970.0,217.1 L975.0,216.0 L980.0,214.9 L985.0,213.8 L990.0,212.8 L995.0,211.8 L1000.0,210.9 L1005.0,210.0 L1010.0,209.1 L1015.0,208.3 L1020.0,207.5 L1025.0,206.7 L1030.0,206.0 L1035.0,205.3 L1040.0,204.6 L1045.0,203.9 L1050.0,203.2 L1055.0,202.6 L1060.0,202.0 L1065.0,201.4 L1070.0,200.8 L1075.0,200.3 L1080.0,199.7 L1085.0,199.2 L1090.0,198.7 L1095.0,198.2 L1100.0,197.7 L1105.0,197.3 L1110.0,196.8 L1115.0,196.4 L1120.0,195.9 L1125.0,195.5 L1130.0,195.1 L1135.0,194.7 L1140.0,194.3 L1145.0,194.0 L1150.0,193.6 L1155.0,193.2 L1160.0,192.9 L1165.0,192.5 L1170.0,192.2 L1175.0,191.9 L1180.0,191.6 L1185.0,191.2 L1190.0,190.9 L1195.0,190.6 L1200.0,190.4 L1205.0,190.1 L1210.0,189.8 L1215.0,189.5 L1220.0,189.3 L1225.0,189.0 L1230.0,188.7 L1235.0,188.5 L1240.0,188.2 L1245.0,188.0 L1250.0,187.8 L1255.0,187.5 L1260.0,187.3 L1265.0,187.1 L1270.0,186.9 L1275.0,186.7 L1280.0,186.5 L1285.0,186.3 L1290.0,186.1 L1295.0,185.9 L1300.0,185.7 L1305.0,185.5 L1310.0,185.3" stroke="#ff00ff" stroke-width="9.0" stroke-opacity="0.42"/>
<path d="M174.5,876.6 L179.5,876.4 L184.5,876.2 L189.5,876.0 L194.5,875.9 L199.5,875.7 L204.5,875.5 L209.5,875.3 L214.5,875.1 L219.5,874.9 L224.5,874.7 L229.5,874.5 L234.5,874.3 L239.5,874.1 L244.5,873.8 L249.5,873.6 L254.5,873.4 L259.5,873.2 L264.5,872.9 L269.5,872.7 L274.5,872.4 L279.5,872.2 L284.5,871.9 L289.5,871.7 L294.5,871.4 L299.5,871.1 L304.5,870.9 L309.5,870.6 L314.5,870.3 L319.5,870.0 L324.5,869.7 L329.5,869.4 L334.5,869.0 L339.5,868.7 L344.5,868.4 L349.5,868.0 L354.5,867.7 L359.5,867.3 L364.5,866.9 L369.5,866.6 L374.5,866.2 L379.5,865.8 L384.5,865.4 L389.5,864.9 L394.5,864.5 L399.5,864.1 L404.5,863.6 L409.5,863.1 L414.5,862.7 L419.5,862.2 L424.5,861.7 L429.5,861.1 L434.5,860.6 L439.5,860.0 L444.5,859.4 L449.5,858.8 L454.5,858.2 L459.5,857.6 L464.5,856.9 L469.5,856.3 L474.5,855.5 L479.5,854.8 L484.5,854.1 L489.5,853.3 L494.5,852.5 L499.5,851.6 L504.5,850.7 L509.5,849.8 L514.5,848.8 L519.5,847.8 L524.5,846.7 L529.5,845.6 L534.5,844.5 L539.5,843.3 L544.5,842.0 L549.5,840.7 L554.5,839.4 L559.5,838.0 L564.5,836.5 L569.5,834.9 L574.5,833.2 L579.5,831.5 L584.5,829.7 L589.5,827.7 L594.5,825.7 L599.5,823.5 L604.5,821.2 L609.5,818.8 L614.5,816.2 L619.5,813.5 L624.5,810.6 L629.5,807.4 L634.5,804.1 L639.5,800.5 L644.5,796.6 L649.5,792.5 L654.5,787.9 L659.5,783.1 L664.5,777.8 L669.5,772.0 L674.5,765.7 L679.5,758.8 L680.0,758.0 L681.0,756.6 L682.0,755.1 L683.0,753.6 L684.0,752.0 L685.0,750.4 L686.0,748.8 L687.0,747.2 L688.0,745.5 L689.0,743.8 L690.0,742.1 L691.0,740.3 L692.0,738.5 L693.0,736.6 L694.0,734.7 L695.0,732.8 L696.0,730.9 L697.0,728.9 L698.0,726.8 L699.0,724.7 L700.0,722.6 L701.0,720.5 L702.0,718.2 L703.0,716.0 L704.0,713.7 L705.0,711.3 L706.0,709.0 L707.0,706.5 L708.0,704.0 L709.0,701.5 L710.0,698.9 L711.0,696.2 L712.0,693.5 L713.0,690.8 L714.0,688.0 L715.0,685.1 L716.0,682.2 L717.0,679.2 L718.0,676.2 L719.0,673.1 L720.0,669.9 L721.0,666.7 L722.0,663.4 L723.0,660.1 L724.0,656.7 L725.0,653.2 L726.0,649.7 L727.0,646.1 L728.0,642.5 L729.0,638.8 L730.0,635.0 L731.0,631.2 L732.0,627.3 L733.0,623.4 L734.0,619.4 L735.0,615.3 L736.0,611.2 L737.0,607.1 L738.0,602.8 L739.0,598.6 L740.0,594.3 L741.0,589.9 L742.0,585.5 L743.0,581.1 L744.0,576.6 L745.0,572.1 L746.0,567.5 L747.0,562.9 L748.0,558.3 L749.0,553.7 L750.0,549.1 L751.0,544.4 L752.0,539.7 L753.0,535.0 L754.0,530.4 L755.0,525.7 L756.0,521.0 L757.0,516.3 L758.0,511.7 L759.0,507.0 L760.0,502.4 L761.0,497.8 L762.0,493.2 L763.0,488.6 L764.0,484.1 L765.0,479.6 L766.0,475.2 L767.0,470.8 L768.0,466.4 L769.0,462.1 L770.0,457.8 L771.0,453.6 L772.0,449.4 L773.0,445.3 L774.0,441.2 L775.0,437.2 L776.0,433.3 L777.0,429.4 L778.0,425.6 L779.0,421.8 L780.0,418.1 L781.0,414.4 L782.0,410.8 L783.0,407.3 L784.0,403.8 L785.0,400.4 L786.0,397.1 L787.0,393.8 L788.0,390.6 L789.0,387.4 L790.0,384.3 L791.0,381.3 L792.0,378.3 L793.0,375.3 L794.0,372.5 L795.0,369.6 L796.0,366.9 L797.0,364.2 L798.0,361.5 L799.0,358.9 L800.0,356.4 L801.0,353.9 L802.0,351.4 L803.0,349.0 L804.0,346.7 L805.0,344.4 L806.0,342.1 L807.0,339.9 L808.0,337.7 L809.0,335.6 L810.0,333.5 L811.0,331.4 L812.0,329.4 L813.0,327.5 L814.0,325.6 L815.0,323.7 L816.0,321.8 L817.0,320.0 L818.0,318.2 L819.0,316.5 L820.0,314.8 L821.0,313.1 L822.0,311.4 L823.0,309.8 L824.0,308.2 L825.0,306.7 L826.0,305.1 L827.0,303.6 L828.0,302.2 L829.0,300.7 L830.0,299.3 L831.0,297.9 L832.0,296.6 L833.0,295.2 L834.0,293.9 L835.0,292.6 L836.0,291.3 L837.0,290.1 L838.0,288.9 L839.0,287.7 L840.0,286.5 L845.0,280.9 L850.0,275.7 L855.0,270.9 L860.0,266.5 L865.0,262.5 L870.0,258.7 L875.0,255.2 L880.0,251.9 L885.0,248.9 L890.0,246.0 L895.0,243.4 L900.0,240.9 L905.0,238.5 L910.0,236.3 L915.0,234.2 L920.0,232.2 L925.0,230.3 L930.0,228.6 L935.0,226.9 L940.0,225.3 L945.0,223.8 L950.0,222.3 L955.0,220.9 L960.0,219.6 L965.0,218.4 L970.0,217.1 L975.0,216.0 L980.0,214.9 L985.0,213.8 L990.0,212.8 L995.0,211.8 L1000.0,210.9 L1005.0,210.0 L1010.0,209.1 L1015.0,208.3 L1020.0,207.5 L1025.0,206.7 L1030.0,206.0 L1035.0,205.3 L1040.0,204.6 L1045.0,203.9 L1050.0,203.2 L1055.0,202.6 L1060.0,202.0 L1065.0,201.4 L1070.0,200.8 L1075.0,200.3 L1080.0,199.7 L1085.0,199.2 L1090.0,198.7 L1095.0,198.2 L1100.0,197.7 L1105.0,197.3 L1110.0,196.8 L1115.0,196.4 L1120.0,195.9 L1125.0,195.5 L1130.0,195.1 L1135.0,194.7 L1140.0,194.3 L1145.0,194.0 L1150.0,193.6 L1155.0,193.2 L1160.0,192.9 L1165.0,192.5 L1170.0,192.2 L1175.0,191.9 L1180.0,191.6 L1185.0,191.2 L1190.0,190.9 L1195.0,190.6 L1200.0,190.4 L1205.0,190.1 L1210.0,189.8 L1215.0,189.5 L1220.0,189.3 L1225.0,189.0 L1230.0,188.7 L1235.0,188.5 L1240.0,188.2 L1245.0,188.0 L1250.0,187.8 L1255.0,187.5 L1260.0,187.3 L1265.0,187.1 L1270.0,186.9 L1275.0,186.7 L1280.0,186.5 L1285.0,186.3 L1290.0,186.1 L1295.0,185.9 L1300.0,185.7 L1305.0,185.5 L1310.0,185.3" stroke="#ff00ff" stroke-width="5.8"/>
<path d="M174.5,184.8 L179.5,185.0 L184.5,185.2 L189.5,185.4 L194.5,185.5 L199.5,185.7 L204.5,185.9 L209.5,186.1 L214.5,186.3 L219.5,186.5 L224.5,186.7 L229.5,186.9 L234.5,187.1 L239.5,187.3 L244.5,187.6 L249.5,187.8 L254.5,188.0 L259.5,188.2 L264.5,188.5 L269.5,188.7 L274.5,189.0 L279.5,189.2 L284.5,189.5 L289.5,189.7 L294.5,190.0 L299.5,190.3 L304.5,190.5 L309.5,190.8 L314.5,191.1 L319.5,191.4 L324.5,191.7 L329.5,192.0 L334.5,192.4 L339.5,192.7 L344.5,193.0 L349.5,193.4 L354.5,193.7 L359.5,194.1 L364.5,194.5 L369.5,194.8 L374.5,195.2 L379.5,195.6 L384.5,196.0 L389.5,196.5 L394.5,196.9 L399.5,197.3 L404.5,197.8 L409.5,198.3 L414.5,198.7 L419.5,199.2 L424.5,199.7 L429.5,200.3 L434.5,200.8 L439.5,201.4 L444.5,202.0 L449.5,202.6 L454.5,203.2 L459.5,203.8 L464.5,204.5 L469.5,205.1 L474.5,205.9 L479.5,206.6 L484.5,207.3 L489.5,208.1 L494.5,208.9 L499.5,209.8 L504.5,210.6 L509.5,211.5 L514.5,212.5 L519.5,213.4 L524.5,214.4 L529.5,215.5 L534.5,216.6 L539.5,217.7 L544.5,218.9 L549.5,220.2 L554.5,221.5 L559.5,222.9 L564.5,224.3 L569.5,225.9 L574.5,227.5 L579.5,229.2 L584.5,231.0 L589.5,232.8 L594.5,234.8 L599.5,236.9 L604.5,239.2 L609.5,241.6 L614.5,244.1 L619.5,246.8 L624.5,249.7 L629.5,252.8 L634.5,256.1 L639.5,259.7 L644.5,263.6 L649.5,267.7 L654.5,272.2 L659.5,277.0 L664.5,282.3 L669.5,288.1 L674.5,294.4 L679.5,301.2 L680.0,302.0 L681.0,303.4 L682.0,304.9 L683.0,306.4 L684.0,308.0 L685.0,309.6 L686.0,311.2 L687.0,312.8 L688.0,314.5 L689.0,316.2 L690.0,317.9 L691.0,319.7 L692.0,321.5 L693.0,323.4 L694.0,325.3 L695.0,327.2 L696.0,329.1 L697.0,331.1 L698.0,333.2 L699.0,335.3 L700.0,337.4 L701.0,339.5 L702.0,341.8 L703.0,344.0 L704.0,346.3 L705.0,348.7 L706.0,351.0 L707.0,353.5 L708.0,356.0 L709.0,358.5 L710.0,361.1 L711.0,363.8 L712.0,366.5 L713.0,369.2 L714.0,372.0 L715.0,374.9 L716.0,377.8 L717.0,380.8 L718.0,383.8 L719.0,386.9 L720.0,390.1 L721.0,393.3 L722.0,396.6 L723.0,399.9 L724.0,403.3 L725.0,406.8 L726.0,410.3 L727.0,413.9 L728.0,417.5 L729.0,421.2 L730.0,425.0 L731.0,428.8 L732.0,432.7 L733.0,436.6 L734.0,440.6 L735.0,444.7 L736.0,448.8 L737.0,452.9 L738.0,457.2 L739.0,461.4 L740.0,465.7 L741.0,470.1 L742.0,474.5 L743.0,478.9 L744.0,483.4 L745.0,487.9 L746.0,492.5 L747.0,497.1 L748.0,501.7 L749.0,506.3 L750.0,510.9 L751.0,515.6 L752.0,520.3 L753.0,525.0 L754.0,529.6 L755.0,534.3 L756.0,539.0 L757.0,543.7 L758.0,548.3 L759.0,553.0 L760.0,557.6 L761.0,562.2 L762.0,566.8 L763.0,571.4 L764.0,575.9 L765.0,580.4 L766.0,584.8 L767.0,589.2 L768.0,593.6 L769.0,597.9 L770.0,602.2 L771.0,606.4 L772.0,610.6 L773.0,614.7 L774.0,618.8 L775.0,622.8 L776.0,626.7 L777.0,630.6 L778.0,634.4 L779.0,638.2 L780.0,641.9 L781.0,645.6 L782.0,649.2 L783.0,652.7 L784.0,656.2 L785.0,659.6 L786.0,662.9 L787.0,666.2 L788.0,669.4 L789.0,672.6 L790.0,675.7 L791.0,678.7 L792.0,681.7 L793.0,684.7 L794.0,687.5 L795.0,690.4 L796.0,693.1 L797.0,695.8 L798.0,698.5 L799.0,701.1 L800.0,703.6 L801.0,706.1 L802.0,708.6 L803.0,711.0 L804.0,713.3 L805.0,715.6 L806.0,717.9 L807.0,720.1 L808.0,722.3 L809.0,724.4 L810.0,726.5 L811.0,728.6 L812.0,730.6 L813.0,732.5 L814.0,734.4 L815.0,736.3 L816.0,738.2 L817.0,740.0 L818.0,741.8 L819.0,743.6 L820.0,745.3 L821.0,747.0 L822.0,748.7 L823.0,750.3 L824.0,751.9 L825.0,753.5 L826.0,755.0 L827.0,756.5 L828.0,758.0 L829.0,759.4 L830.0,760.9 L831.0,762.3 L832.0,763.7 L833.0,765.0 L834.0,766.3 L835.0,767.7 L836.0,768.9 L837.0,770.2 L838.0,771.4 L839.0,772.7 L840.0,773.8 L845.0,779.5 L850.0,784.8 L855.0,789.6 L860.0,794.0 L865.0,798.2 L870.0,802.0 L875.0,805.6 L880.0,808.9 L885.0,812.0 L890.0,814.9 L895.0,817.7 L900.0,820.2 L905.0,822.6 L910.0,824.8 L915.0,826.9 L920.0,828.9 L925.0,830.8 L930.0,832.5 L935.0,834.2 L940.0,835.8 L945.0,837.3 L950.0,838.8 L955.0,840.2 L960.0,841.5 L965.0,842.7 L970.0,844.0 L975.0,845.1 L980.0,846.2 L985.0,847.3 L990.0,848.3 L995.0,849.3 L1000.0,850.2 L1005.0,851.1 L1010.0,852.0 L1015.0,852.8 L1020.0,853.6 L1025.0,854.4 L1030.0,855.1 L1035.0,855.8 L1040.0,856.5 L1045.0,857.2 L1050.0,857.9 L1055.0,858.5 L1060.0,859.1 L1065.0,859.7 L1070.0,860.3 L1075.0,860.8 L1080.0,861.4 L1085.0,861.9 L1090.0,862.4 L1095.0,862.9 L1100.0,863.4 L1105.0,863.8 L1110.0,864.3 L1115.0,864.7 L1120.0,865.2 L1125.0,865.6 L1130.0,866.0 L1135.0,866.4 L1140.0,866.8 L1145.0,867.1 L1150.0,867.5 L1155.0,867.9 L1160.0,868.2 L1165.0,868.6 L1170.0,868.9 L1175.0,869.2 L1180.0,869.5 L1185.0,869.9 L1190.0,870.2 L1195.0,870.5 L1200.0,870.7 L1205.0,871.0 L1210.0,871.3 L1215.0,871.6 L1220.0,871.8 L1225.0,872.1 L1230.0,872.4 L1235.0,872.6 L1240.0,872.9 L1245.0,873.1 L1250.0,873.3 L1255.0,873.6 L1260.0,873.8 L1265.0,874.0 L1270.0,874.2 L1275.0,874.4 L1280.0,874.6 L1285.0,874.8 L1290.0,875.0 L1295.0,875.2 L1300.0,875.4 L1305.0,875.6 L1310.0,875.8" stroke="#a2142f" stroke-width="9.0" stroke-opacity="0.42"/>
<path d="M174.5,184.8 L179.5,185.0 L184.5,185.2 L189.5,185.4 L194.5,185.5 L199.5,185.7 L204.5,185.9 L209.5,186.1 L214.5,186.3 L219.5,186.5 L224.5,186.7 L229.5,186.9 L234.5,187.1 L239.5,187.3 L244.5,187.6 L249.5,187.8 L254.5,188.0 L259.5,188.2 L264.5,188.5 L269.5,188.7 L274.5,189.0 L279.5,189.2 L284.5,189.5 L289.5,189.7 L294.5,190.0 L299.5,190.3 L304.5,190.5 L309.5,190.8 L314.5,191.1 L319.5,191.4 L324.5,191.7 L329.5,192.0 L334.5,192.4 L339.5,192.7 L344.5,193.0 L349.5,193.4 L354.5,193.7 L359.5,194.1 L364.5,194.5 L369.5,194.8 L374.5,195.2 L379.5,195.6 L384.5,196.0 L389.5,196.5 L394.5,196.9 L399.5,197.3 L404.5,197.8 L409.5,198.3 L414.5,198.7 L419.5,199.2 L424.5,199.7 L429.5,200.3 L434.5,200.8 L439.5,201.4 L444.5,202.0 L449.5,202.6 L454.5,203.2 L459.5,203.8 L464.5,204.5 L469.5,205.1 L474.5,205.9 L479.5,206.6 L484.5,207.3 L489.5,208.1 L494.5,208.9 L499.5,209.8 L504.5,210.6 L509.5,211.5 L514.5,212.5 L519.5,213.4 L524.5,214.4 L529.5,215.5 L534.5,216.6 L539.5,217.7 L544.5,218.9 L549.5,220.2 L554.5,221.5 L559.5,222.9 L564.5,224.3 L569.5,225.9 L574.5,227.5 L579.5,229.2 L584.5,231.0 L589.5,232.8 L594.5,234.8 L599.5,236.9 L604.5,239.2 L609.5,241.6 L614.5,244.1 L619.5,246.8 L624.5,249.7 L629.5,252.8 L634.5,256.1 L639.5,259.7 L644.5,263.6 L649.5,267.7 L654.5,272.2 L659.5,277.0 L664.5,282.3 L669.5,288.1 L674.5,294.4 L679.5,301.2 L680.0,302.0 L681.0,303.4 L682.0,304.9 L683.0,306.4 L684.0,308.0 L685.0,309.6 L686.0,311.2 L687.0,312.8 L688.0,314.5 L689.0,316.2 L690.0,317.9 L691.0,319.7 L692.0,321.5 L693.0,323.4 L694.0,325.3 L695.0,327.2 L696.0,329.1 L697.0,331.1 L698.0,333.2 L699.0,335.3 L700.0,337.4 L701.0,339.5 L702.0,341.8 L703.0,344.0 L704.0,346.3 L705.0,348.7 L706.0,351.0 L707.0,353.5 L708.0,356.0 L709.0,358.5 L710.0,361.1 L711.0,363.8 L712.0,366.5 L713.0,369.2 L714.0,372.0 L715.0,374.9 L716.0,377.8 L717.0,380.8 L718.0,383.8 L719.0,386.9 L720.0,390.1 L721.0,393.3 L722.0,396.6 L723.0,399.9 L724.0,403.3 L725.0,406.8 L726.0,410.3 L727.0,413.9 L728.0,417.5 L729.0,421.2 L730.0,425.0 L731.0,428.8 L732.0,432.7 L733.0,436.6 L734.0,440.6 L735.0,444.7 L736.0,448.8 L737.0,452.9 L738.0,457.2 L739.0,461.4 L740.0,465.7 L741.0,470.1 L742.0,474.5 L743.0,478.9 L744.0,483.4 L745.0,487.9 L746.0,492.5 L747.0,497.1 L748.0,501.7 L749.0,506.3 L750.0,510.9 L751.0,515.6 L752.0,520.3 L753.0,525.0 L754.0,529.6 L755.0,534.3 L756.0,539.0 L757.0,543.7 L758.0,548.3 L759.0,553.0 L760.0,557.6 L761.0,562.2 L762.0,566.8 L763.0,571.4 L764.0,575.9 L765.0,580.4 L766.0,584.8 L767.0,589.2 L768.0,593.6 L769.0,597.9 L770.0,602.2 L771.0,606.4 L772.0,610.6 L773.0,614.7 L774.0,618.8 L775.0,622.8 L776.0,626.7 L777.0,630.6 L778.0,634.4 L779.0,638.2 L780.0,641.9 L781.0,645.6 L782.0,649.2 L783.0,652.7 L784.0,656.2 L785.0,659.6 L786.0,662.9 L787.0,666.2 L788.0,669.4 L789.0,672.6 L790.0,675.7 L791.0,678.7 L792.0,681.7 L793.0,684.7 L794.0,687.5 L795.0,690.4 L796.0,693.1 L797.0,695.8 L798.0,698.5 L799.0,701.1 L800.0,703.6 L801.0,706.1 L802.0,708.6 L803.0,711.0 L804.0,713.3 L805.0,715.6 L806.0,717.9 L807.0,720.1 L808.0,722.3 L809.0,724.4 L810.0,726.5 L811.0,728.6 L812.0,730.6 L813.0,732.5 L814.0,734.4 L815.0,736.3 L816.0,738.2 L817.0,740.0 L818.0,741.8 L819.0,743.6 L820.0,745.3 L821.0,747.0 L822.0,748.7 L823.0,750.3 L824.0,751.9 L825.0,753.5 L826.0,755.0 L827.0,756.5 L828.0,758.0 L829.0,759.4 L830.0,760.9 L831.0,762.3 L832.0,763.7 L833.0,765.0 L834.0,766.3 L835.0,767.7 L836.0,768.9 L837.0,770.2 L838.0,771.4 L839.0,772.7 L840.0,773.8 L845.0,779.5 L850.0,784.8 L855.0,789.6 L860.0,794.0 L865.0,798.2 L870.0,802.0 L875.0,805.6 L880.0,808.9 L885.0,812.0 L890.0,814.9 L895.0,817.7 L900.0,820.2 L905.0,822.6 L910.0,824.8 L915.0,826.9 L920.0,828.9 L925.0,830.8 L930.0,832.5 L935.0,834.2 L940.0,835.8 L945.0,837.3 L950.0,838.8 L955.0,840.2 L960.0,841.5 L965.0,842.7 L970.0,844.0 L975.0,845.1 L980.0,846.2 L985.0,847.3 L990.0,848.3 L995.0,849.3 L1000.0,850.2 L1005.0,851.1 L1010.0,852.0 L1015.0,852.8 L1020.0,853.6 L1025.0,854.4 L1030.0,855.1 L1035.0,855.8 L1040.0,856.5 L1045.0,857.2 L1050.0,857.9 L1055.0,858.5 L1060.0,859.1 L1065.0,859.7 L1070.0,860.3 L1075.0,860.8 L1080.0,861.4 L1085.0,861.9 L1090.0,862.4 L1095.0,862.9 L1100.0,863.4 L1105.0,863.8 L1110.0,864.3 L1115.0,864.7 L1120.0,865.2 L1125.0,865.6 L1130.0,866.0 L1135.0,866.4 L1140.0,866.8 L1145.0,867.1 L1150.0,867.5 L1155.0,867.9 L1160.0,868.2 L1165.0,868.6 L1170.0,868.9 L1175.0,869.2 L1180.0,869.5 L1185.0,869.9 L1190.0,870.2 L1195.0,870.5 L1200.0,870.7 L1205.0,871.0 L1210.0,871.3 L1215.0,871.6 L1220.0,871.8 L1225.0,872.1 L1230.0,872.4 L1235.0,872.6 L1240.0,872.9 L1245.0,873.1 L1250.0,873.3 L1255.0,873.6 L1260.0,873.8 L1265.0,874.0 L1270.0,874.2 L1275.0,874.4 L1280.0,874.6 L1285.0,874.8 L1290.0,875.0 L1295.0,875.2 L1300.0,875.4 L1305.0,875.6 L1310.0,875.8" stroke="#a2142f" stroke-width="5.8"/>
</g>
<!-- tick labels -->
<text transform="translate(145.96,1182.30) scale(1.0000,1.0000)" font-family="Liberation Sans" font-weight="normal" font-style="normal" font-size="53" letter-spacing="0.000" fill="#262626">18</text><text transform="translate(524.08,1182.30) scale(1.0000,1.0000)" font-family="Liberation Sans" font-weight="normal" font-style="normal" font-size="53" letter-spacing="0.000" fill="#262626">20</text><text transform="translate(903.22,1182.30) scale(1.0000,1.0000)" font-family="Liberation Sans" font-weight="normal" font-style="normal" font-size="53" letter-spacing="0.000" fill="#262626">22</text><text transform="translate(1279.87,1182.30) scale(1.0000,1.0000)" font-family="Liberation Sans" font-weight="normal" font-style="normal" font-size="53" letter-spacing="0.000" fill="#262626">24</text><text transform="translate(127.39,84.50) scale(1.0000,1.0000)" font-family="Liberation Sans" font-weight="normal" font-style="normal" font-size="53" letter-spacing="0.000" fill="#262626">2</text><text transform="translate(127.89,550.50) scale(1.0000,1.0000)" font-family="Liberation Sans" font-weight="normal" font-style="normal" font-size="53" letter-spacing="0.000" fill="#262626">0</text><text transform="translate(127.39,1017.60) scale(1.0000,1.0000)" font-family="Liberation Sans" font-weight="normal" font-style="normal" font-size="53" letter-spacing="0.000" fill="#262626">2</text><rect x="111.3" y="999.3" width="15.2" height="5.4" fill="#262626"/>
<!-- axis labels -->
<text transform="translate(504.87,1253.40) scale(1.0000,1.0350)" font-family="Liberation Sans" font-weight="normal" font-style="normal" font-size="56.5" letter-spacing="0.106" fill="#262626">Photon</text><text transform="translate(698.57,1253.40) scale(1.0000,1.0350)" font-family="Liberation Sans" font-weight="normal" font-style="normal" font-size="56.5" letter-spacing="-1.535" fill="#262626">Energy</text><text transform="translate(885.00,1253.40) scale(1.0000,1.0350)" font-family="Liberation Sans" font-weight="normal" font-style="normal" font-size="56.5" letter-spacing="-3.310" fill="#262626">(eV)</text><text transform="translate(85.7,0) rotate(-90) translate(-735.03,0.00) scale(1.0000,1.0350)" font-family="Liberation Sans" font-weight="normal" font-style="normal" font-size="56.5" letter-spacing="0.636" fill="#262626">Phase</text><text transform="translate(85.7,0) rotate(-90) translate(-559.90,0.00) scale(1.0000,1.0350)" font-family="Liberation Sans" font-weight="normal" font-style="normal" font-size="56.5" letter-spacing="-0.596" fill="#262626">(rad)</text>
<!-- legend -->
<g fill="none">
<line x1="831.4" y1="357.5" x2="940.1" y2="357.5" stroke="#00ffff" stroke-width="9.4" stroke-opacity="0.45"/>
<line x1="831.4" y1="357.5" x2="940.1" y2="357.5" stroke="#00ffff" stroke-width="5.3"/>
<line x1="831.4" y1="441.5" x2="940.1" y2="441.5" stroke="#ff00ff" stroke-width="9.4" stroke-opacity="0.45"/>
<line x1="831.4" y1="441.5" x2="940.1" y2="441.5" stroke="#ff00ff" stroke-width="5.3"/>
<line x1="831.4" y1="533.2" x2="940.1" y2="533.2" stroke="#a2142f" stroke-width="9.4" stroke-opacity="0.45"/>
<line x1="831.4" y1="533.2" x2="940.1" y2="533.2" stroke="#a2142f" stroke-width="5.3"/>
</g>
<g transform="translate(945,330.00) scale(0.05342)" fill="none" stroke="#000" stroke-linecap="round" stroke-linejoin="round"><path d="M168,1160 C212,900 272,600 342,402 C392,272 480,172 608,166 C716,164 776,232 766,312 C756,398 700,458 642,488 L452,505" stroke-width="40"/><path d="M642,488 C718,520 748,600 734,682 C708,830 600,948 452,948 C372,948 292,918 266,868" stroke-width="40"/><path d="M676,176 C798,202 806,334 662,492 C728,402 734,256 652,190 Z" fill="#000" stroke-width="12"/><path d="M652,492 C776,544 774,722 560,930 C676,800 704,610 622,510 Z" fill="#000" stroke-width="12"/></g><rect x="987.60" y="355.40" width="30.40" height="7.00" fill="#000000"/><rect x="987.60" y="368.30" width="30.40" height="7.00" fill="#000000"/><text transform="translate(1018.19,382.00) scale(1.0000,1.0000)" font-family="Liberation Sans" font-weight="bold" font-style="normal" font-size="63.5" letter-spacing="0.000" fill="#000000">0</text>
<g transform="translate(945,421.10) scale(0.05342)" fill="none" stroke="#000" stroke-linecap="round" stroke-linejoin="round"><path d="M168,1160 C212,900 272,600 342,402 C392,272 480,172 608,166 C716,164 776,232 766,312 C756,398 700,458 642,488 L452,505" stroke-width="40"/><path d="M642,488 C718,520 748,600 734,682 C708,830 600,948 452,948 C372,948 292,918 266,868" stroke-width="40"/><path d="M676,176 C798,202 806,334 662,492 C728,402 734,256 652,190 Z" fill="#000" stroke-width="12"/><path d="M652,492 C776,544 774,722 560,930 C676,800 704,610 622,510 Z" fill="#000" stroke-width="12"/></g><rect x="987.60" y="446.50" width="30.40" height="7.00" fill="#000000"/><rect x="987.60" y="459.40" width="30.40" height="7.00" fill="#000000"/><rect x="1029.20" y="448.70" width="30.30" height="10.50" fill="#000000"/><text transform="translate(1067.17,473.10) scale(1.0000,1.0000)" font-family="Liberation Sans" font-weight="bold" font-style="normal" font-size="62.5" letter-spacing="0.000" fill="#000000">3</text><path d="M1111.65,443.35 L1139.65,472.35 M1111.65,472.35 L1139.65,443.35" stroke="#000000" stroke-width="2.8" fill="none" stroke-linecap="butt"/><path d="M1179.20,473.10 L1188.50,473.10 L1188.50,429.90 L1180.80,429.90 C1179.80,434.40 1174.00,437.10 1169.00,437.30 L1169.00,444.90 L1179.20,444.90 Z" fill="#000000"/><text transform="translate(1195.99,473.10) scale(1.0000,1.0000)" font-family="Liberation Sans" font-weight="bold" font-style="normal" font-size="63.5" letter-spacing="0.000" fill="#000000">0</text><rect x="1231.70" y="425.90" width="14.60" height="6.80" fill="#000000"/><text transform="translate(1248.65,443.50) scale(1.0000,1.0000)" font-family="Liberation Sans" font-weight="bold" font-style="normal" font-size="50.0" letter-spacing="0.000" fill="#000000">3</text>
<g transform="translate(945,512.30) scale(0.05342)" fill="none" stroke="#000" stroke-linecap="round" stroke-linejoin="round"><path d="M168,1160 C212,900 272,600 342,402 C392,272 480,172 608,166 C716,164 776,232 766,312 C756,398 700,458 642,488 L452,505" stroke-width="40"/><path d="M642,488 C718,520 748,600 734,682 C708,830 600,948 452,948 C372,948 292,918 266,868" stroke-width="40"/><path d="M676,176 C798,202 806,334 662,492 C728,402 734,256 652,190 Z" fill="#000" stroke-width="12"/><path d="M652,492 C776,544 774,722 560,930 C676,800 704,610 622,510 Z" fill="#000" stroke-width="12"/></g><rect x="987.60" y="537.70" width="30.40" height="7.00" fill="#000000"/><rect x="987.60" y="550.60" width="30.40" height="7.00" fill="#000000"/><rect x="1022.00" y="545.50" width="29.70" height="7.20" fill="#000000"/><rect x="1033.00" y="533.10" width="7.80" height="31.00" fill="#000000"/><text transform="translate(1054.37,564.30) scale(1.0000,1.0000)" font-family="Liberation Sans" font-weight="bold" font-style="normal" font-size="62.5" letter-spacing="0.000" fill="#000000">3</text><path d="M1098.85,534.55 L1126.85,563.55 M1098.85,563.55 L1126.85,534.55" stroke="#000000" stroke-width="2.8" fill="none" stroke-linecap="butt"/><path d="M1166.40,564.30 L1175.70,564.30 L1175.70,521.10 L1168.00,521.10 C1167.00,525.60 1161.20,528.30 1156.20,528.50 L1156.20,536.10 L1166.40,536.10 Z" fill="#000000"/><text transform="translate(1183.19,564.30) scale(1.0000,1.0000)" font-family="Liberation Sans" font-weight="bold" font-style="normal" font-size="63.5" letter-spacing="0.000" fill="#000000">0</text><rect x="1218.90" y="517.10" width="14.60" height="6.80" fill="#000000"/><text transform="translate(1235.85,534.70) scale(1.0000,1.0000)" font-family="Liberation Sans" font-weight="bold" font-style="normal" font-size="50.0" letter-spacing="0.000" fill="#000000">3</text>
</svg>
</body></html>
